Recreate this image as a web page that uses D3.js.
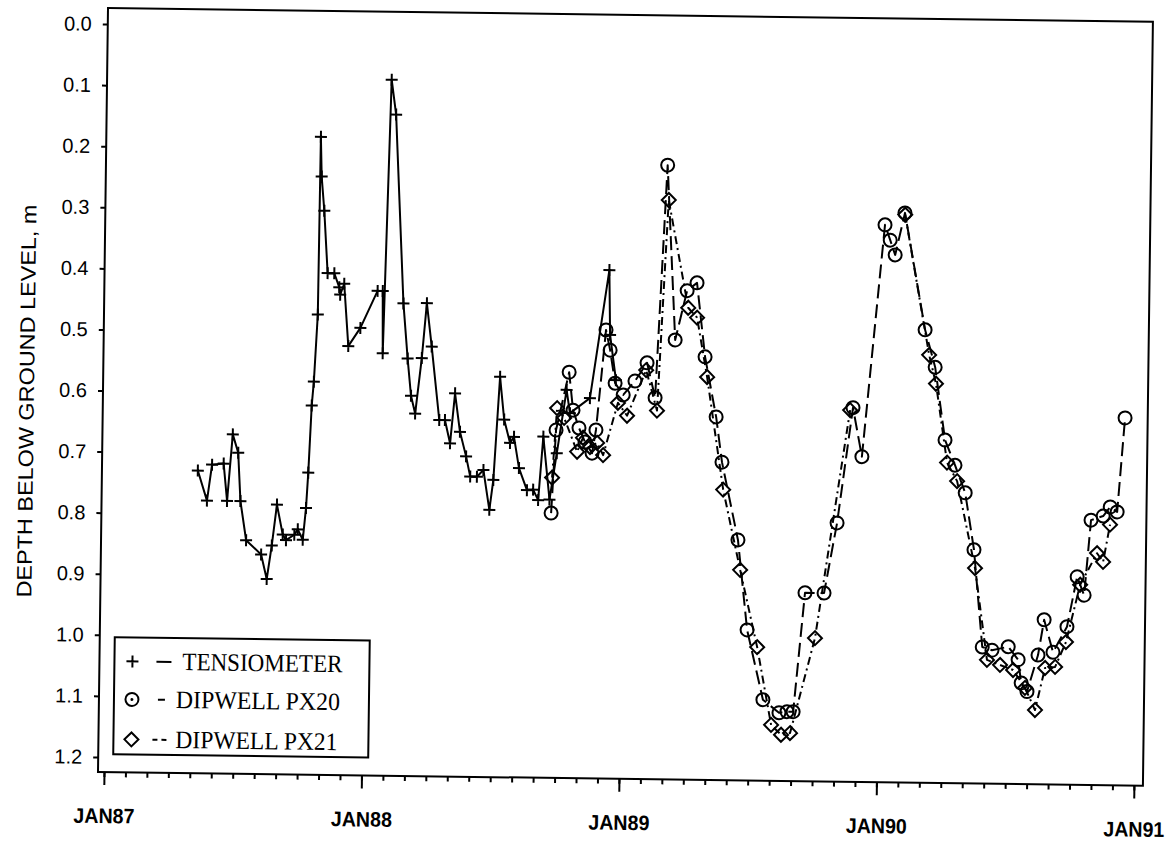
<!DOCTYPE html>
<html>
<head>
<meta charset="utf-8">
<script src="https://cdn.jsdelivr.net/npm/d3@7"></script>
<style>
  body { margin: 0; background: #fff; }
  svg { display: block; }
</style>
</head>
<body>
<svg id="chart" width="1172" height="843"></svg>
<script>
// Water-table depth below ground level (m) against time (decimal year).
// A null entry marks a break in the record.
const tensiometer = [
  [1987.349,0.729],[1987.386,0.778],[1987.404,0.719],[1987.449,0.717],[1987.464,0.778],
  [1987.483,0.669],[1987.505,0.699],[1987.516,0.778],[1987.540,0.842],[1987.599,0.865],
  [1987.622,0.905],[1987.640,0.850],[1987.658,0.783],[1987.682,0.832],[1987.695,0.841],
  [1987.727,0.832],[1987.740,0.823],[1987.760,0.840],[1987.771,0.788],[1987.778,0.730],
  [1987.788,0.620],[1987.795,0.581],[1987.807,0.471],[1987.810,0.180],[1987.815,0.245],
  [1987.827,0.301],[1987.843,0.403],[1987.869,0.403],[1987.889,0.426],[1987.893,0.438],
  [1987.908,0.420],[1987.927,0.522],[1987.973,0.492],[1988.038,0.431],[1988.058,0.431],
  [1988.061,0.533],[1988.082,0.085],[1988.101,0.142],[1988.139,0.451],[1988.158,0.541],
  [1988.173,0.602],[1988.190,0.631],[1988.213,0.540],[1988.230,0.450],[1988.251,0.521],
  [1988.284,0.641],[1988.306,0.641],[1988.327,0.679],[1988.344,0.597],[1988.365,0.660],
  [1988.390,0.700],[1988.407,0.733],[1988.433,0.733],[1988.458,0.722],[1988.483,0.787],
  [1988.497,0.738],[1988.518,0.569],[1988.536,0.639],[1988.560,0.677],[1988.575,0.667],
  [1988.596,0.718],[1988.628,0.754],[1988.652,0.753],[1988.672,0.770],[1988.689,0.666],
  [1988.716,0.769],[1988.742,0.693],[1988.777,0.589],[1988.791,0.627],[1988.868,0.602],
  [1988.937,0.392],[1988.943,0.498],[1988.968,0.572]
];

const dipwellPX20 = [
  [1988.723,0.791],[1988.738,0.655],[1988.786,0.560],[1988.803,0.622],[1988.827,0.651],
  [1988.851,0.674],[1988.879,0.692],[1988.893,0.654],[1988.927,0.490],[1988.944,0.523],
  [1988.965,0.577],[1988.997,0.596],[1989.042,0.573],[1989.088,0.543],[1989.121,0.600],
  [1989.158,0.219],[1989.196,0.505],[1989.240,0.424],[1989.278,0.411],[1989.313,0.532],
  [1989.359,0.630],[1989.384,0.704],[1989.450,0.831],[1989.490,0.978],[1989.555,1.092],
  [1989.618,1.113],[1989.649,1.111],[1989.673,1.111],[1989.713,0.916],[1989.787,0.916],
  [1989.834,0.801],[1989.890,0.612],[1989.927,0.692],[1990.005,0.312],[1990.026,0.337],
  [1990.046,0.361],[1990.082,0.292],[1990.166,0.483],[1990.207,0.544],[1990.249,0.663],
  [1990.289,0.704],[1990.330,0.749],[1990.367,0.842],[1990.404,1.001],[1990.442,1.006],
  [1990.505,1.000],[1990.544,1.021],[1990.557,1.059],[1990.580,1.073],[1990.621,1.013],
  [1990.643,0.955],[1990.679,1.008],[1990.732,0.966],[1990.769,0.884],[1990.797,0.914],
  [1990.820,0.791],[1990.867,0.784],[1990.894,0.769],[1990.921,0.777],[1990.947,0.623]
];

const dipwellPX21 = [
  [1988.725,0.733],[1988.741,0.619],[1988.769,0.635],[1988.821,0.690],[1988.843,0.667],
  [1988.871,0.682],[1988.898,0.675],[1988.922,0.695],[1988.977,0.609],[1989.013,0.630],
  [1989.085,0.555],[1989.129,0.621],[1989.164,0.276],[1989.245,0.452],[1989.280,0.468],
  [1989.322,0.565],[1989.390,0.749],[1989.460,0.880],[1989.530,1.006],[1989.588,1.133],
  [1989.627,1.149],[1989.662,1.146],[1989.754,0.990],[1989.879,0.616],null,
  [1990.083,0.295],
  [1990.183,0.524],[1990.211,0.571],[1990.258,0.700],[1990.298,0.730],[1990.372,0.872],
  [1990.423,1.022],[1990.474,1.030],[1990.525,1.038],[1990.572,1.067],[1990.612,1.103],
  [1990.649,1.034],[1990.688,1.032],[1990.729,0.991],[1990.781,0.897],[1990.845,0.845],
  [1990.869,0.859],[1990.894,0.798]
];

const yearTicks  = [1987, 1988, 1989, 1990, 1991];
const yearLabels = ["JAN87", "JAN88", "JAN89", "JAN90", "JAN91"];
const depthTicks = [0, 0.1, 0.2, 0.3, 0.4, 0.5, 0.6, 0.7, 0.8, 0.9, 1.0, 1.1, 1.2];
const legendLabels = ["TENSIOMETER", "DIPWELL PX20", "DIPWELL PX21"];
const yTitle = "DEPTH BELOW GROUND LEVEL, m";

// ---- layout ----
const frame = { left: 98, right: 1143, top: 8, bottom: 772 };
const x = d3.scaleLinear().domain([1987, 1991]).range([104, 1134]);
const y = d3.scaleLinear().domain([0, 1.2]).range([24, 757]);
const INK = "#000";

const svg = d3.select("#chart");
svg.append("rect").attr("width", 1172).attr("height", 843).attr("fill", "#fff");

// the whole sheet sits a little askew
const g = svg.append("g").attr("transform", "rotate(0.75 98 772)");

// plot frame
g.append("rect")
  .attr("x", frame.left).attr("y", frame.top)
  .attr("width", frame.right - frame.left)
  .attr("height", frame.bottom - frame.top)
  .attr("fill", "none").attr("stroke", INK).attr("stroke-width", 2);

// x axis: monthly minor ticks, yearly labelled ticks
const monthTicks = d3.range(0, 49).map(i => 1987 + i / 12);
const xMinor = g.append("g").attr("transform", `translate(0,${frame.bottom})`)
  .call(d3.axisBottom(x).tickValues(monthTicks).tickSize(5).tickFormat(""));
const xMajor = g.append("g").attr("transform", `translate(0,${frame.bottom})`)
  .call(d3.axisBottom(x).tickValues(yearTicks).tickSize(13)
        .tickFormat((d, i) => yearLabels[i]));
[xMinor, xMajor].forEach(a => {
  a.select(".domain").remove();
  a.selectAll(".tick line").attr("stroke", INK).attr("stroke-width", 2);
});
xMajor.selectAll(".tick text")
  .attr("y", 51).attr("dy", 0)
  .attr("fill", INK)
  .attr("font-family", "'Liberation Sans', Arial, sans-serif")
  .attr("font-weight", "bold")
  .attr("font-size", 21)
  .attr("textLength", 61)
  .attr("lengthAdjust", "spacingAndGlyphs");

// y axis
const yAxis = g.append("g").attr("transform", `translate(${frame.left},0)`)
  .call(d3.axisLeft(y).tickValues(depthTicks).tickSize(5).tickPadding(11)
        .tickFormat(d3.format(".1f")));
yAxis.select(".domain").remove();
yAxis.selectAll(".tick line").attr("stroke", INK).attr("stroke-width", 2);
yAxis.selectAll(".tick text")
  .attr("fill", INK)
  .attr("font-family", "'Liberation Sans', Arial, sans-serif")
  .attr("font-size", 20);

g.append("text")
  .attr("transform", "translate(29,402) rotate(-90)")
  .attr("text-anchor", "middle")
  .attr("font-family", "'Liberation Sans', Arial, sans-serif")
  .attr("font-size", 21)
  .attr("fill", INK)
  .attr("textLength", 393)
  .attr("lengthAdjust", "spacingAndGlyphs")
  .text(yTitle);

// ---- series ----
const line = d3.line()
  .defined(d => d !== null)
  .x(d => x(d[0])).y(d => y(d[1]));

const series = [
  { data: tensiometer, dash: null,        marker: "plus" },
  { data: dipwellPX20, dash: "14,6",      marker: "circle" },
  { data: dipwellPX21, dash: "8,4,2,4",   marker: "diamond" }
];

const plot = g.append("g");

series.forEach(s => {
  plot.append("path")
    .datum(s.data)
    .attr("d", line)
    .attr("fill", "none")
    .attr("stroke", INK)
    .attr("stroke-width", 2)
    .attr("stroke-linejoin", "round")
    .attr("stroke-dasharray", s.dash);
});

function drawMarker(sel, kind, cx, cy) {
  if (kind === "plus") {
    sel.append("path")
      .attr("d", `M${cx - 6},${cy}H${cx + 6}M${cx},${cy - 6}V${cy + 6}`)
      .attr("stroke", INK).attr("stroke-width", 2).attr("fill", "none");
  } else if (kind === "circle") {
    sel.append("circle")
      .attr("cx", cx).attr("cy", cy).attr("r", 6.5)
      .attr("stroke", INK).attr("stroke-width", 2).attr("fill", "none");
  } else {
    const r = 7;
    sel.append("path")
      .attr("d", `M${cx},${cy - r}L${cx + r},${cy}L${cx},${cy + r}L${cx - r},${cy}Z`)
      .attr("stroke", INK).attr("stroke-width", 2).attr("fill", "none");
  }
}

series.forEach(s => {
  const mg = plot.append("g");
  s.data.filter(d => d !== null)
    .forEach(d => drawMarker(mg, s.marker, x(d[0]), y(d[1])));
});

// ---- legend ----
const leg = g.append("g");
leg.append("rect")
  .attr("x", 113).attr("y", 637).attr("width", 255).attr("height", 117)
  .attr("fill", "#fff").attr("stroke", INK).attr("stroke-width", 2);

const legRows = [
  { cy: 661, tx: 181, base: 669, len: 160, marker: "plus",    sample: [155, 170], dash: null },
  { cy: 699, tx: 175, base: 707, len: 164, marker: "circle",  sample: [157, 164], dash: null },
  { cy: 739, tx: 175, base: 747, len: 162, marker: "diamond", sample: [152, 168], dash: "5,4" }
];
legRows.forEach((r, i) => {
  drawMarker(leg, r.marker, 131, r.cy);
  if (r.marker === "circle") {
    leg.append("circle").attr("cx", 131).attr("cy", r.cy).attr("r", 1.5).attr("fill", INK);
  }
  leg.append("line")
    .attr("x1", r.sample[0]).attr("x2", r.sample[1])
    .attr("y1", r.cy).attr("y2", r.cy)
    .attr("stroke", INK).attr("stroke-width", 2)
    .attr("stroke-dasharray", r.dash);
  leg.append("text")
    .attr("x", r.tx).attr("y", r.base)
    .attr("font-family", "'Liberation Serif', 'Times New Roman', serif")
    .attr("font-size", 25)
    .attr("fill", INK)
    .attr("textLength", r.len)
    .attr("lengthAdjust", "spacingAndGlyphs")
    .text(legendLabels[i]);
});
</script>
</body>
</html>
